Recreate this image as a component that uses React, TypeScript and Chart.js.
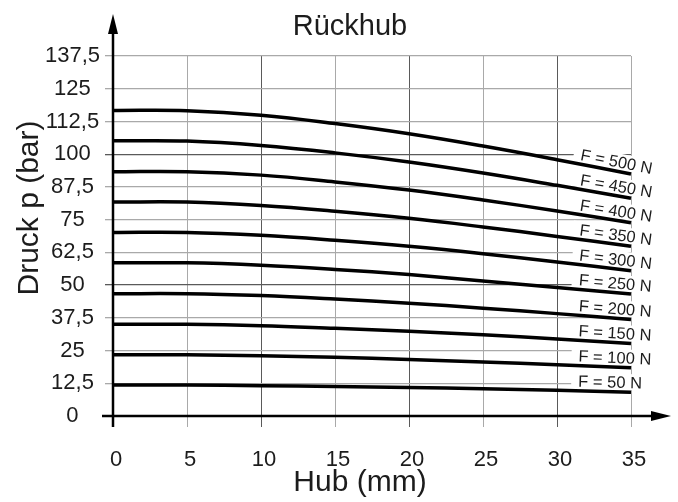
import React, { useEffect, useRef } from "react";
import { Chart, registerables } from "chart.js";

Chart.register(...registerables);

// ---- data ----
const hub = [0, 5, 10, 15, 20, 25, 30, 35];
const xTickValues = [0, 5, 10, 15, 20, 25, 30, 35];
const yTickValues = [0, 12.5, 25, 37.5, 50, 62.5, 75, 87.5, 100, 112.5, 125, 137.5];

const forceLabels = [
  "F = 50 N",
  "F = 100 N",
  "F = 150 N",
  "F = 200 N",
  "F = 250 N",
  "F = 300 N",
  "F = 350 N",
  "F = 400 N",
  "F = 450 N",
  "F = 500 N",
];

const f50 = [11.8, 11.8, 11.6, 11.3, 10.9, 10.4, 9.8, 9.1];
const f100 = [23.4, 23.4, 23.0, 22.4, 21.6, 20.6, 19.6, 18.4];
const f150 = [35.0, 35.0, 34.5, 33.5, 32.4, 31.0, 29.4, 27.7];
const f200 = [46.7, 46.7, 46.0, 44.7, 43.1, 41.2, 39.1, 36.9];
const f250 = [58.5, 58.5, 57.6, 56.0, 54.0, 51.6, 49.1, 46.6];
const f300 = [70.1, 70.1, 69.0, 67.1, 64.8, 62.0, 58.8, 55.5];
const f350 = [81.7, 81.7, 80.4, 78.2, 75.5, 72.2, 68.6, 64.8];
const f400 = [93.3, 93.3, 92.0, 89.4, 86.3, 82.5, 78.3, 73.8];
const f450 = [105.1, 105.0, 103.3, 100.5, 97.0, 92.8, 88.1, 83.2];
const f500 = [116.7, 116.6, 114.9, 111.7, 107.8, 103.1, 97.9, 92.4];

const seriesValues = [f50, f100, f150, f200, f250, f300, f350, f400, f450, f500];

const chartTitle = "Rückhub";
const xTitle = "Hub (mm)";
const yTitle = "Druck p (bar)";

const FONT = "'Liberation Sans', Arial, sans-serif";
const TEXT = "#1c1c1c";
const GRID_LIGHT = "#a9a9a9";
const GRID_DARK = "#5a5a5a";

const decorPlugin = {
  id: "decor",
  beforeDatasetsDraw(chart: any) {
    const ctx = chart.ctx;
    const xs = chart.scales.x;
    const ys = chart.scales.y;
    ctx.save();
    ctx.fillStyle = "#ffffff";
    seriesValues.forEach((vals) => {
      const n = vals.length;
      const xe = xs.getPixelForValue(hub[n - 1]);
      const ye = ys.getPixelForValue(vals[n - 1]);
      const xp = xs.getPixelForValue(hub[n - 2]);
      const yp = ys.getPixelForValue(vals[n - 2]);
      const ang = Math.atan2(ye - yp, xe - xp);
      ctx.save();
      ctx.translate(xe, ye);
      ctx.rotate(ang);
      ctx.fillRect(-60, -18, 84, 16);
      ctx.restore();
    });
    ctx.restore();
  },
  afterDatasetsDraw(chart: any) {
    const ctx = chart.ctx;
    const xs = chart.scales.x;
    const ys = chart.scales.y;
    ctx.save();
    ctx.fillStyle = TEXT;
    ctx.font = `16.5px ${FONT}`;
    ctx.textAlign = "left";
    ctx.textBaseline = "alphabetic";
    seriesValues.forEach((vals, i) => {
      const n = vals.length;
      const xe = xs.getPixelForValue(hub[n - 1]);
      const ye = ys.getPixelForValue(vals[n - 1]);
      const xp = xs.getPixelForValue(hub[n - 2]);
      const yp = ys.getPixelForValue(vals[n - 2]);
      const ang = Math.atan2(ye - yp, xe - xp);
      ctx.save();
      ctx.translate(xe, ye);
      ctx.rotate(ang);
      ctx.fillText(forceLabels[i], -53, -4);
      ctx.restore();
    });
    ctx.restore();
  },
  afterDraw(chart: any) {
    const ctx = chart.ctx;
    const xs = chart.scales.x;
    const ys = chart.scales.y;
    const x0 = xs.getPixelForValue(0);
    const y0 = ys.getPixelForValue(0);
    const area = chart.chartArea;
    ctx.save();
    ctx.strokeStyle = "#000";
    ctx.fillStyle = "#000";
    ctx.lineWidth = 2.5;
    // y axis
    ctx.beginPath();
    ctx.moveTo(x0, area.bottom + 11);
    ctx.lineTo(x0, 30);
    ctx.stroke();
    ctx.beginPath();
    ctx.moveTo(x0, 14);
    ctx.lineTo(x0 - 5, 34);
    ctx.lineTo(x0 + 5, 34);
    ctx.closePath();
    ctx.fill();
    // x axis
    ctx.beginPath();
    ctx.moveTo(area.left - 11, y0);
    ctx.lineTo(656, y0);
    ctx.stroke();
    ctx.beginPath();
    ctx.moveTo(671, y0);
    ctx.lineTo(651, y0 - 5);
    ctx.lineTo(651, y0 + 5);
    ctx.closePath();
    ctx.fill();

    // titles
    ctx.fillStyle = TEXT;
    ctx.textAlign = "center";
    ctx.textBaseline = "alphabetic";
    ctx.font = `29px ${FONT}`;
    ctx.fillText(chartTitle, 350, 35);
    ctx.font = `30px ${FONT}`;
    ctx.fillText(xTitle, 360, 491);
    ctx.save();
    ctx.translate(38, 208);
    ctx.rotate(-Math.PI / 2);
    ctx.fillText(yTitle, 0, 0);
    ctx.restore();
    ctx.restore();
  },
};

export default function App() {
  const ref = useRef<HTMLCanvasElement | null>(null);

  useEffect(() => {
    if (!ref.current) return;
    const datasets = seriesValues.map((vals, i) => ({
      label: forceLabels[i],
      data: hub.map((h, j) => ({ x: h, y: vals[j] })),
      borderColor: "#000",
      borderWidth: 3.5,
      pointRadius: 0,
      fill: false,
      tension: 0.4,
      clip: false as any,
    }));

    const chart = new Chart(ref.current, {
      type: "line",
      data: { datasets },
      options: {
        responsive: false,
        maintainAspectRatio: false,
        animation: false,
        layout: { padding: { top: 56, right: 47, left: 0, bottom: 0 } },
        plugins: {
          legend: { display: false },
          title: { display: false },
          tooltip: { enabled: false },
        },
        scales: {
          x: {
            type: "linear",
            min: 0,
            max: 35,
            afterBuildTicks: (s: any) => {
              s.ticks = xTickValues.map((v) => ({ value: v }));
            },
            afterFit: (s: any) => {
              s.height = 86;
            },
            border: { display: false },
            grid: {
              color: (c: any) => (c.tick && c.tick.value % 10 === 0 ? GRID_DARK : GRID_LIGHT),
              lineWidth: 1,
              tickLength: 11,
              drawTicks: true,
            },
            ticks: {
              color: TEXT,
              font: { family: FONT, size: 22 },
              padding: 20,
              labelOffset: 3,
              maxRotation: 0,
              callback: (v: any) => String(v),
            },
          },
          y: {
            type: "linear",
            min: 0,
            max: 137.5,
            afterBuildTicks: (s: any) => {
              s.ticks = yTickValues.map((v) => ({ value: v }));
            },
            afterFit: (s: any) => {
              s.width = 113;
            },
            border: { display: false },
            grid: {
              color: (c: any) => (c.tick && c.tick.value % 50 === 0 ? GRID_DARK : GRID_LIGHT),
              lineWidth: 1.3,
              tickLength: 8,
              drawTicks: true,
            },
            ticks: {
              color: TEXT,
              font: { family: FONT, size: 22 },
              padding: 5,
              crossAlign: "center",
              callback: (v: any) => String(v).replace(".", ","),
            },
          },
        },
      },
      plugins: [decorPlugin],
    });
    return () => chart.destroy();
  }, []);

  return (
    <div style={{ position: "absolute", left: 0, top: 0, width: 678, height: 502, background: "#fff" }}>
      <canvas ref={ref} width={678} height={502} style={{ width: 678, height: 502, display: "block" }} />
    </div>
  );
}
